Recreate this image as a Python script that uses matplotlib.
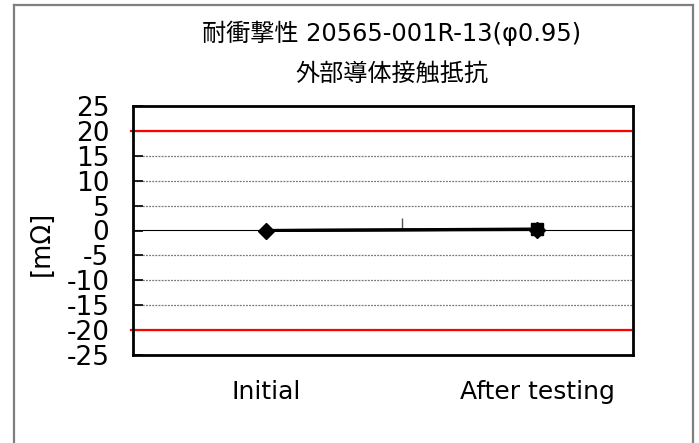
import matplotlib
matplotlib.use("Agg")
import matplotlib.pyplot as plt
import numpy as np
from matplotlib.lines import Line2D

# ---- data ----
categories = ["Initial", "After testing"]
series_a = [0.0, 0.2]      # diamond markers
series_b = [0.0, 0.3]      # square markers (visible at After testing)
upper_limit = 20
lower_limit = -20
y_ticks = list(range(-25, 30, 5))
title_line1 = "耐衝撃性 20565-001R-13(φ0.95)"
title_line2 = "外部導体接触抵抗"
y_label = "[mΩ]"

W, H = 699, 443
fig = plt.figure(figsize=(W / 100, H / 100), dpi=100)

# outer chart border (left, top, right)
border_kw = dict(color="#7f7f7f", lw=1.6, transform=fig.transFigure)
x0, x1, yt = 14 / W, 693 / W, 1 - 5 / H
fig.add_artist(Line2D([x0, x0], [0, yt], **border_kw))
fig.add_artist(Line2D([x0, x1], [yt, yt], **border_kw))
fig.add_artist(Line2D([x1, x1], [0, yt], **border_kw))

left, right, top, bottom = 133, 633, 106, 355
ax = fig.add_axes([left / W, 1 - bottom / H, (right - left) / W, (bottom - top) / H])

x = np.arange(1, len(categories) + 1)
ax.set_xlim(0.509, 2.354)
ax.set_ylim(-25, 25)

# gridlines
for v in y_ticks:
    if v in (-25, 25, 0):
        continue
    ax.axhline(v, color="#777777", lw=0.9, ls=(0, (1.5, 1.0)), zorder=1)

# limit lines
for lim in (upper_limit, lower_limit):
    ax.axhline(lim, xmin=-0.004, xmax=0.996, color="#ff0000", lw=1.6, zorder=2, clip_on=False)

# zero axis line with centre tick
sec = ax.secondary_xaxis(0.5)
sec.spines["bottom"].set_color("black")
sec.spines["bottom"].set_linewidth(1.2)
sec.set_xticks([1.5])
sec.set_xticklabels([])
sec.tick_params(axis="x", direction="out", length=9, width=1, color="#555555")

# data series
ax.plot(x, series_b, color="black", lw=2.2, marker="s", markersize=8,
        markevery=[1], zorder=4)
ax.plot(x, series_a, color="black", lw=2.2, marker="D", markersize=8, zorder=5)

# axes styling
for s in ax.spines.values():
    s.set_color("black")
    s.set_linewidth(2)

ax.set_yticks(y_ticks)
ax.set_yticklabels([str(v) for v in y_ticks])
ax.tick_params(axis="y", direction="in", length=7, width=1.2, labelsize=19, pad=17)
ax.set_xticks(x)
ax.set_xticklabels(categories)
ax.tick_params(axis="x", length=0, labelsize=18, pad=18)

ax.set_ylabel(y_label, fontsize=18.5)
ax.yaxis.set_label_coords(-0.156, 0.448)

# titles
tfam = ["DejaVu Sans", "Noto Sans CJK JP"]
fig.text(392 / W, 1 - 33 / H, title_line1, ha="center", va="center", fontsize=17.4, family=tfam)
fig.text(392 / W, 1 - 74 / H, title_line2, ha="center", va="center", fontsize=17.4, family=tfam)

fig.savefig("out.png", dpi=100)
